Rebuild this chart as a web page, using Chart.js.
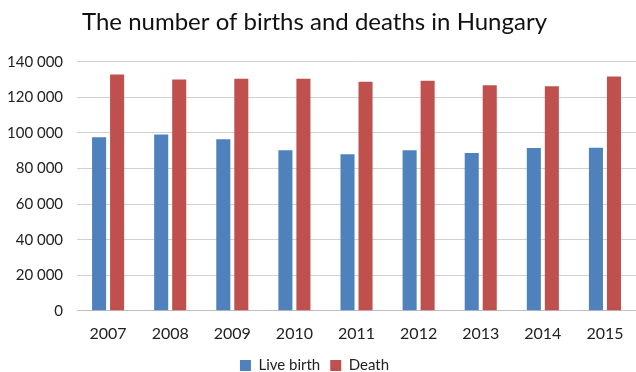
<!DOCTYPE html>
<html>
<head>
<meta charset="utf-8">
<script src="https://cdn.jsdelivr.net/npm/chart.js@4"></script>
<style>
  html, body { margin: 0; padding: 0; background: #fff; }
  #wrap { width: 636px; height: 372px; }
</style>
</head>
<body>
<div id="wrap"><canvas id="c"></canvas></div>
<script>
const years = ['2007', '2008', '2009', '2010', '2011', '2012', '2013', '2014', '2015'];
const liveBirth = [97600, 99100, 96400, 90300, 88000, 90300, 88700, 91500, 91700];
const deaths = [132900, 130000, 130400, 130500, 128800, 129400, 126800, 126300, 131700];
const yTicks = [0, 20000, 40000, 60000, 80000, 100000, 120000, 140000];

const fmt = v => String(v).replace(/\B(?=(\d{3})+(?!\d))/g, ' ');

new Chart(document.getElementById('c'), {
  type: 'bar',
  data: {
    labels: years,
    datasets: [
      { label: 'Live birth', data: liveBirth, backgroundColor: '#4F81BD' },
      { label: 'Death', data: deaths, backgroundColor: '#C0504D' }
    ]
  },
  options: {
    responsive: true,
    maintainAspectRatio: false,
    animation: false,
    datasets: { bar: { categoryPercentage: 0.58, barPercentage: 0.78 } },
    layout: { padding: { left: -7, right: 0, top: 0, bottom: -11 } },
    plugins: {
      title: {
        display: true,
        text: 'The number of births and deaths in Hungary',
        color: '#111',
        font: { family: 'Lato', size: 24, weight: 'normal' },
        padding: { top: 8, bottom: 25 }
      },
      legend: {
        position: 'bottom',
        labels: {
          color: '#222',
          font: { family: 'Lato', size: 15 },
          boxWidth: 11, boxHeight: 11, padding: 10
        }
      },
      tooltip: { enabled: false }
    },
    scales: {
      x: {
        grid: { display: false },
        border: { color: '#bfbfbf' },
        ticks: { color: '#222', font: { family: 'Lato', size: 16 }, padding: 5 }
      },
      y: {
        min: 0, max: 140000,
        afterBuildTicks: axis => { axis.ticks = yTicks.map(v => ({ value: v })); },
        grid: { color: '#d0d0d0', drawTicks: false },
        border: { display: false },
        ticks: { color: '#222', font: { family: 'Lato', size: 15 }, padding: 14, callback: v => fmt(v) }
      }
    }
  }
});
</script>
</body>
</html>
